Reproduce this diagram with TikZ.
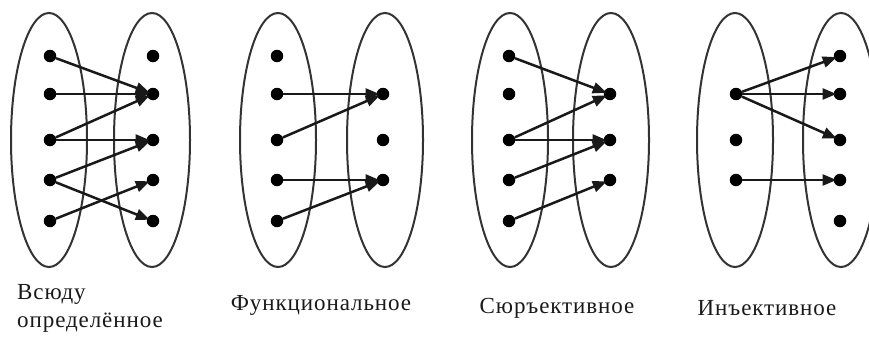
\documentclass[tikz,border=0pt]{standalone}
\usepackage{fontspec}
\setmainfont{Liberation Serif}
\newfontfamily\labfont[LetterSpace=4]{Liberation Serif}
\usetikzlibrary{arrows.meta}
\begin{document}
\begin{tikzpicture}[x=1pt,y=-1pt,
  set/.style={draw=black!80, line width=2pt},
  pt/.style={circle, fill=black, inner sep=0pt, minimum size=12.5pt},
  map/.style={draw=black!90, line width=2.5pt, -{Triangle[length=14pt,width=11pt]}, shorten >=-3pt},
  lab/.style={font=\labfont\fontsize{23}{25}\selectfont, inner sep=0pt, text=black!90}]
\useasboundingbox (0,0) rectangle (869,340);
\begin{scope}
\clip (0,0) rectangle (869,340);
% ellipses
\draw[set] (49,140) ellipse [x radius=38, y radius=127];
\draw[set] (152,140) ellipse [x radius=38, y radius=127];
\draw[set] (278,140) ellipse [x radius=38, y radius=127];
\draw[set] (385,140) ellipse [x radius=38, y radius=127];
\draw[set] (510,140) ellipse [x radius=38, y radius=127];
\draw[set] (611,140) ellipse [x radius=38, y radius=127];
\draw[set] (735,140) ellipse [x radius=38, y radius=127];
\draw[set] (841,140) ellipse [x radius=38, y radius=127];
\end{scope}
% diagram 1
\node[pt] (a1) at (50,56) {};
\node[pt] (a2) at (50,94) {};
\node[pt] (a3) at (50,140) {};
\node[pt] (a4) at (50,180) {};
\node[pt] (a5) at (50,221) {};
\node[pt] (b1) at (153,56) {};
\node[pt] (b2) at (153,94) {};
\node[pt] (b3) at (153,140) {};
\node[pt] (b4) at (153,180) {};
\node[pt] (b5) at (153,221) {};
\draw[map] (a1) -- (b2);
\draw[map] (a2) -- (b2);
\draw[map] (a3) -- (b2);
\draw[map] (a3) -- (b3);
\draw[map] (a4) -- (b3);
\draw[map] (a4) -- (b5);
\draw[map] (a5) -- (b4);
% diagram 2
\node[pt] (c1) at (277,56) {};
\node[pt] (c2) at (277,94) {};
\node[pt] (c3) at (277,140) {};
\node[pt] (c4) at (277,180) {};
\node[pt] (c5) at (277,221) {};
\node[pt] (d2) at (383,94) {};
\node[pt] (d3) at (383,140) {};
\node[pt] (d4) at (383,180) {};
\draw[map] (c2) -- (d2);
\draw[map] (c3) -- (d2);
\draw[map] (c4) -- (d4);
\draw[map] (c5) -- (d4);
% diagram 3
\node[pt] (e1) at (509,56) {};
\node[pt] (e2) at (509,94) {};
\node[pt] (e3) at (509,140) {};
\node[pt] (e4) at (509,180) {};
\node[pt] (e5) at (509,221) {};
\node[pt] (f2) at (610,94) {};
\node[pt] (f3) at (610,140) {};
\node[pt] (f4) at (610,180) {};
\draw[map] (e1) -- (f2);
\draw[map] (e3) -- (f2);
\draw[map] (e3) -- (f3);
\draw[map] (e4) -- (f3);
\draw[map] (e5) -- (f4);
% diagram 4
\node[pt] (g2) at (736,94) {};
\node[pt] (g3) at (736,140) {};
\node[pt] (g4) at (736,180) {};
\node[pt] (h1) at (840,56) {};
\node[pt] (h2) at (840,94) {};
\node[pt] (h3) at (840,140) {};
\node[pt] (h4) at (840,180) {};
\node[pt] (h5) at (840,221) {};
\draw[map] (g2) -- (h1);
\draw[map] (g2) -- (h2);
\draw[map] (g2) -- (h3);
\draw[map] (g4) -- (h4);
% labels
\node[lab, anchor=base west] (l1a) at (17,299) {Всюду};
\node[lab, anchor=base west] (l1b) at (17,327) {определённое};
\node[lab] (l2) at (321,305) {Функциональное};
\node[lab] (l3) at (557,308) {Сюръективное};
\node[lab] (l4) at (767,308) {Инъективное};
\end{tikzpicture}
\end{document}
